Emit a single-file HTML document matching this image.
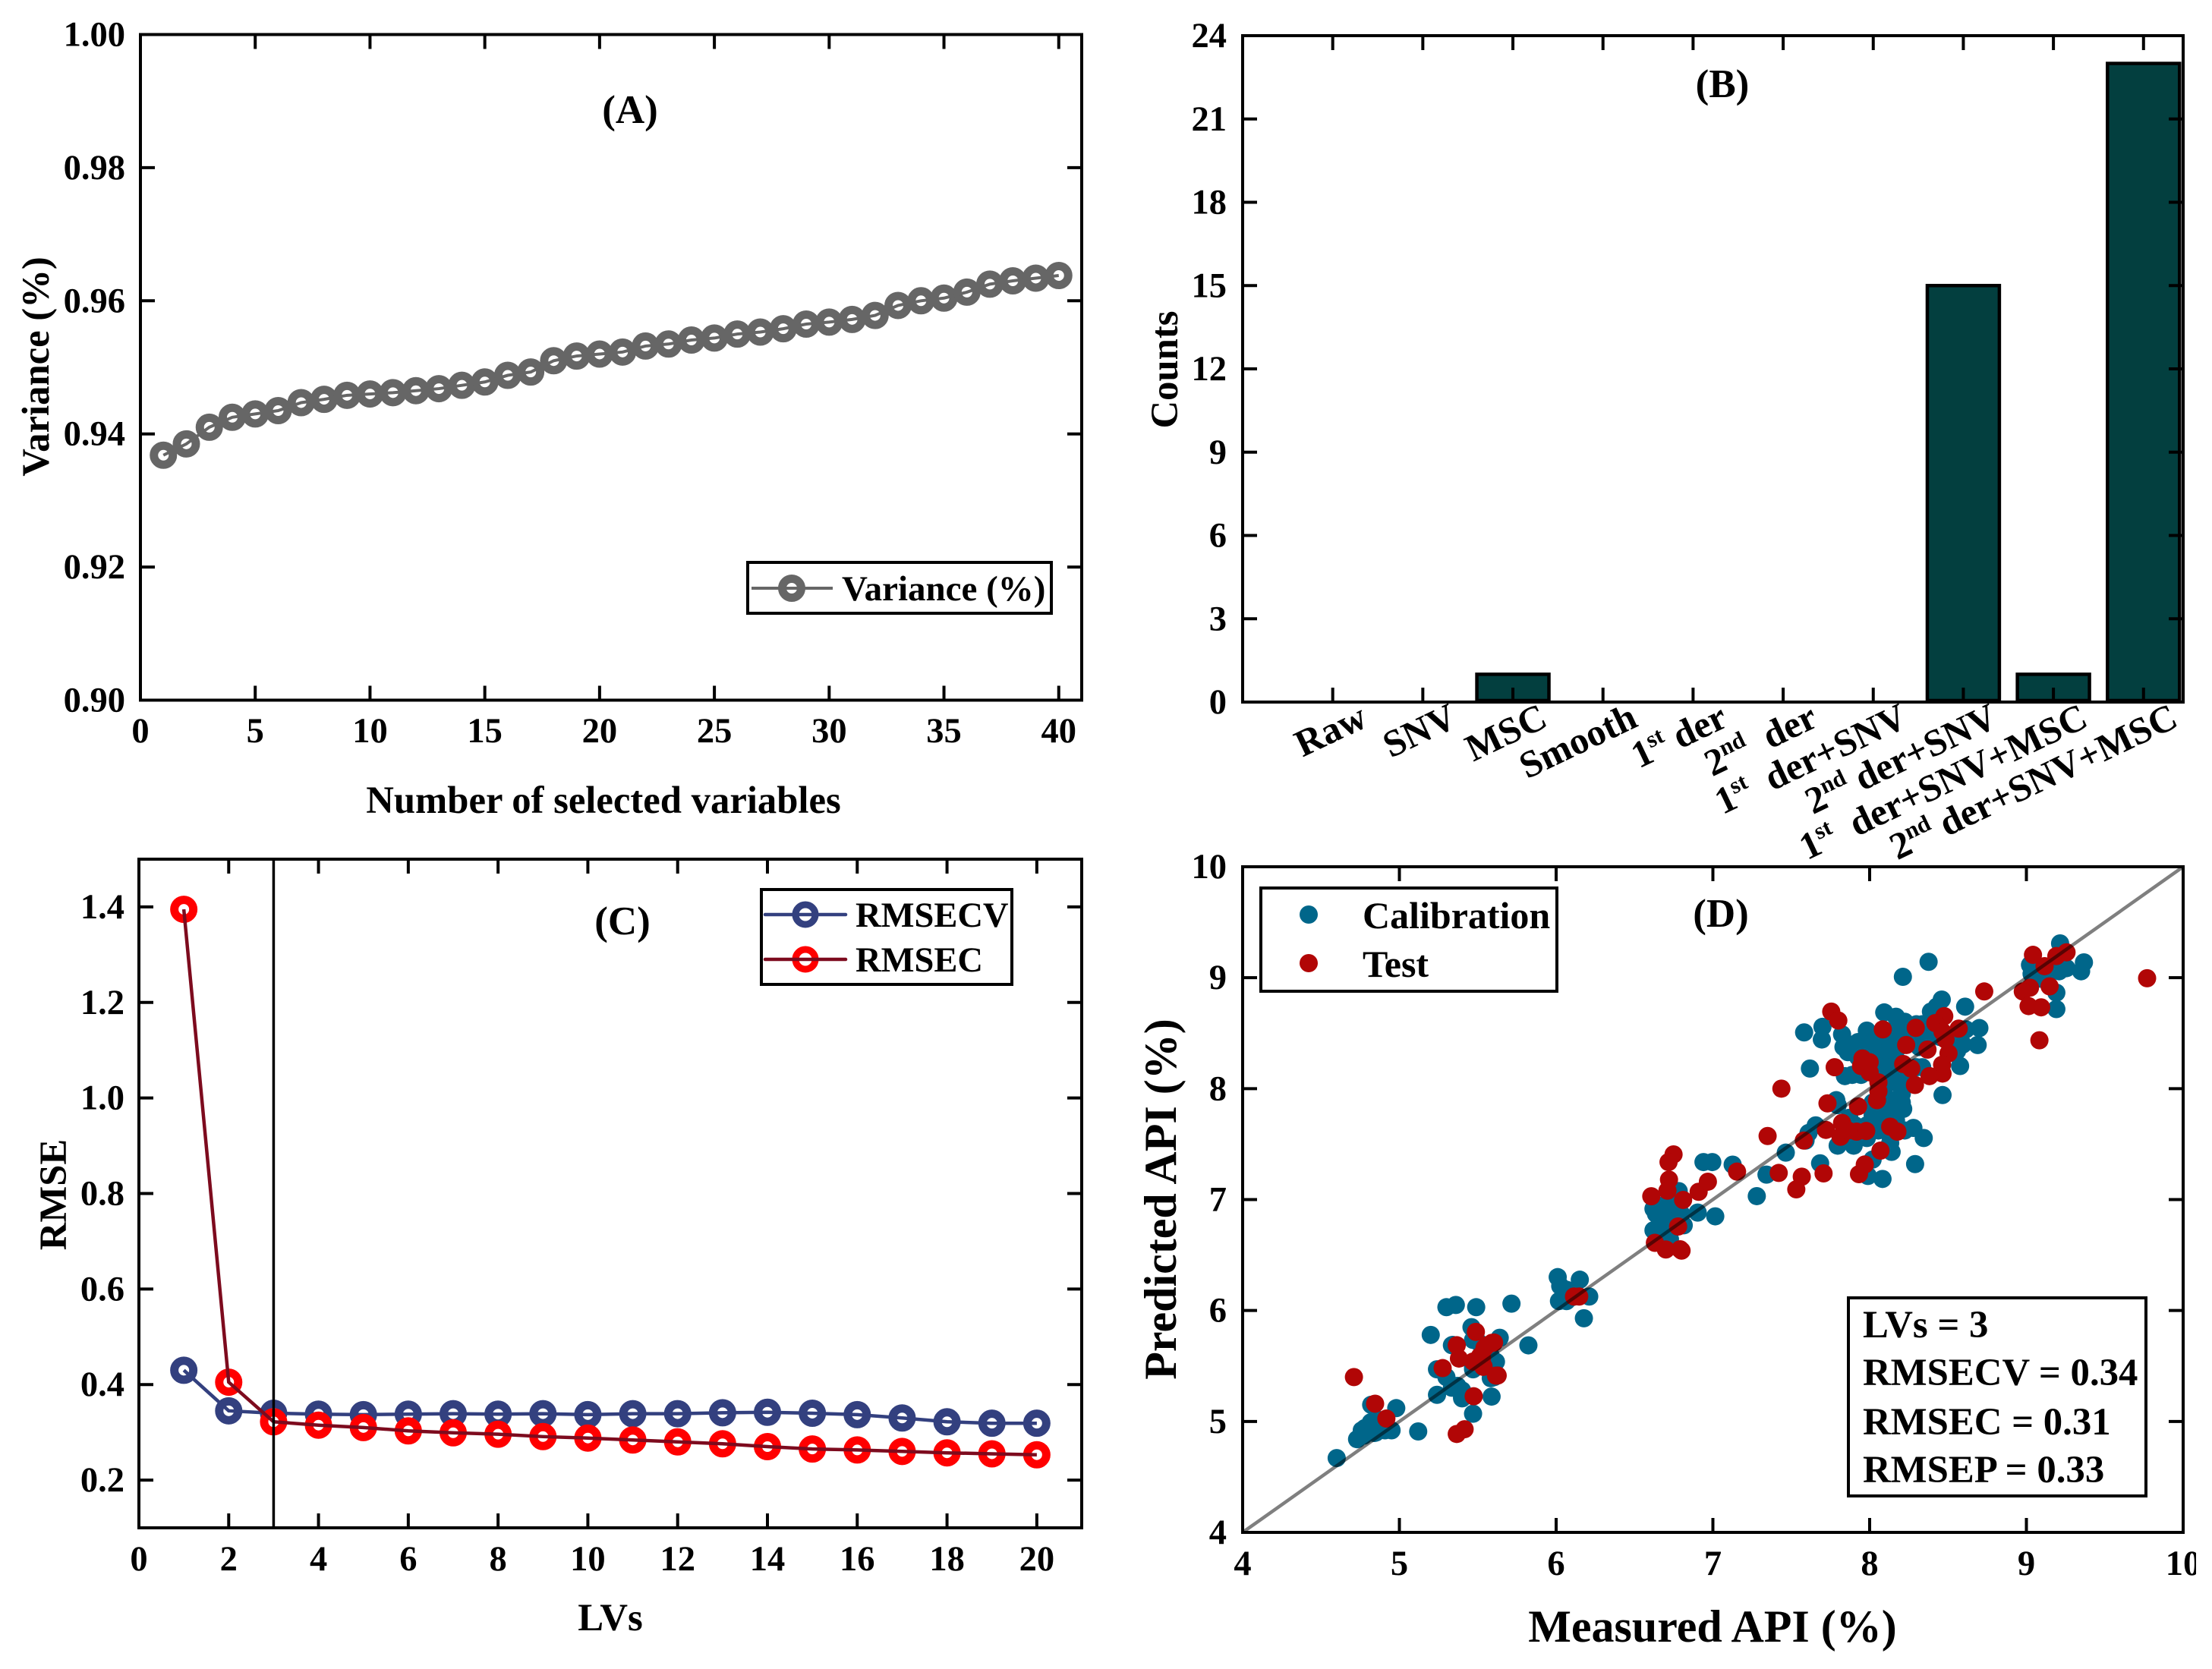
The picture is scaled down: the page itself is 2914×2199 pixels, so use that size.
<!DOCTYPE html>
<html>
<head>
<meta charset="utf-8">
<title>Variable selection and PLS model results</title>
<style>
html,body{margin:0;padding:0;background:#fff;}
svg{display:block;}
text{font-family:"Liberation Serif","Times New Roman",serif;font-weight:bold;fill:#000;white-space:pre;}
.tick{font-size:46.5px;}
.title{font-size:50.7px;}
.panel{font-size:53px;}
.leg{font-size:46.5px;}
.big{font-size:50px;}
.metric{font-size:50.8px;}
</style>
</head>
<body>
<svg id="chart" xmlns="http://www.w3.org/2000/svg" width="2914" height="2199" viewBox="0 0 2914 2199">
  <rect x="0" y="0" width="2914" height="2199" fill="#fff"/>
  <g id="panelA"></g>
  <g id="panelB"></g>
  <g id="panelC"></g>
  <g id="panelD"></g>

  <g>
    <text class="panel" x="830" y="162" text-anchor="middle">(A)</text>
    <text class="title" x="795" y="1071" text-anchor="middle">Number of selected variables</text>
    <text class="title" transform="translate(64 483) rotate(-90)" text-anchor="middle">Variance (%)</text>
    <g>
      <rect x="985" y="741" width="400" height="67" fill="#fff" stroke="#000" stroke-width="4"/>
      <circle cx="1043" cy="775" r="12.5" fill="#fff" stroke="#666" stroke-width="11"/>
      <line x1="990" y1="775" x2="1097" y2="775" stroke="#666" stroke-width="4"/>
      <text class="leg" style="font-size:47px" x="1109" y="791">Variance (%)</text>
    </g>
  </g>

  <g>
    <text class="panel" x="2269" y="128" text-anchor="middle">(B)</text>
    <text class="title" transform="translate(1551 487) rotate(-90)" text-anchor="middle">Counts</text>
  </g>

  <g>
    <text class="panel" x="820" y="1231" text-anchor="middle">(C)</text>
    <text class="title" x="804" y="2148" text-anchor="middle">LVs</text>
    <text class="title" transform="translate(87 1574) rotate(-90)" text-anchor="middle">RMSE</text>
    <g>
      <rect x="1003" y="1172" width="330" height="125" fill="#fff" stroke="#000" stroke-width="4"/>
      <circle cx="1061" cy="1205" r="13" fill="#fff" stroke="#33407f" stroke-width="9"/>
      <line x1="1008" y1="1205" x2="1114" y2="1205" stroke="#33407f" stroke-width="4.5" stroke-linecap="round"/>
      <text class="leg" x="1127" y="1221">RMSECV</text>
      <circle cx="1061" cy="1264" r="13" fill="#fff" stroke="#ff0000" stroke-width="9"/>
      <line x1="1008" y1="1264" x2="1114" y2="1264" stroke="#7d0b1e" stroke-width="4.5" stroke-linecap="round"/>
      <text class="leg" x="1127" y="1280">RMSEC</text>
    </g>
  </g>

  <g>
    <text class="panel" x="2267" y="1221" text-anchor="middle">(D)</text>
    <text class="title" style="font-size:60px" x="2256" y="2163" text-anchor="middle">Measured API (%)</text>
    <text class="title" style="font-size:60px" transform="translate(1549 1580) rotate(-90)" text-anchor="middle">Predicted API (%)</text>
    <g>
      <rect x="1661" y="1170" width="390" height="136" fill="#fff" stroke="#000" stroke-width="4"/>
      <circle cx="1724" cy="1205" r="12" fill="#00668a"/>
      <text class="big" x="1795" y="1223">Calibration</text>
      <circle cx="1724" cy="1269" r="12" fill="#b10606"/>
      <text class="big" x="1795" y="1287">Test</text>
    </g>
    <g>
      <rect x="2435" y="1710" width="392" height="261" fill="#fff" stroke="#000" stroke-width="4"/>
      <text class="metric" x="2454" y="1762">LVs = 3</text>
      <text class="metric" x="2454" y="1825">RMSECV = 0.34</text>
      <text class="metric" x="2454" y="1890">RMSEC = 0.31</text>
      <text class="metric" x="2454" y="1953">RMSEP = 0.33</text>
    </g>
  </g>
</svg>

<script>
// ---- Panel A data ----
const varianceCounts = [1,2,3,4,5,6,7,8,9,10,11,12,13,14,15,16,17,18,19,20,21,22,23,24,25,26,27,28,29,30,31,32,33,34,35,36,37,38,39,40];
const varianceValues = [0.9368,0.9385,0.941,0.9425,0.943,0.9435,0.9447,0.9452,0.9458,0.946,0.9462,0.9465,0.9468,0.9473,0.9478,0.9488,0.9493,0.951,0.9517,0.952,0.9523,0.9532,0.9535,0.9541,0.9544,0.955,0.9553,0.9558,0.9565,0.9568,0.9572,0.9578,0.9593,0.96,0.9604,0.9613,0.9625,0.963,0.9634,0.9638];
const panelAXTicks = [0,5,10,15,20,25,30,35,40];
const panelAYTicks = [0.90,0.92,0.94,0.96,0.98,1.00];
const panelAYLabels = ['0.90','0.92','0.94','0.96','0.98','1.00'];

// ---- Panel B data ----
const pretreatments = ['Raw','SNV','MSC','Smooth','1^st^ der','2^nd^  der','1^st^  der+SNV','2^nd^ der+SNV','1^st^  der+SNV+MSC','2^nd^ der+SNV+MSC'];
const pretreatmentCounts = [0,0,1,0,0,0,0,15,1,23];
const panelBYTicks = [0,3,6,9,12,15,18,21,24];

// ---- Panel C data ----
const latentVariables = [1,2,3,4,5,6,7,8,9,10,11,12,13,14,15,16,17,18,19,20];
const rmsecvValues = [0.43,0.345,0.34,0.338,0.337,0.338,0.339,0.338,0.339,0.337,0.339,0.339,0.341,0.342,0.34,0.337,0.33,0.322,0.319,0.319];
const rmsecValues = [1.395,0.405,0.322,0.315,0.31,0.303,0.299,0.296,0.291,0.288,0.284,0.28,0.276,0.27,0.265,0.263,0.26,0.257,0.255,0.253];
const selectedLVs = [3];
const panelCXTicks = [0,2,4,6,8,10,12,14,16,18,20];
const panelCYTicks = [0.2,0.4,0.6,0.8,1.0,1.2,1.4];
const panelCYLabels = ['0.2','0.4','0.6','0.8','1.0','1.2','1.4'];

// ---- Panel D data ----
const calibrationMeasured = [
4.6,4.73,4.76,4.78,4.85,4.82,4.88,4.95,4.98,5.12,4.9,4.83,
4.773,4.84,4.863,4.818,4.908,
5.2,5.24,5.24,5.3,5.3,5.36,5.34,5.37,5.4,5.4,5.47,5.46,5.49,5.715,5.823,5.64,5.588,5.583,5.616,5.47,5.5,5.58,5.52,
5.335,5.40,5.47,5.58,5.47,5.335,5.604,
6.01,6.026,6.151,6.066,6.018,6.066,6.211,6.177,6.1,
6.782,6.653,6.702,6.734,6.678,6.814,6.621,6.718,6.726,6.686,6.766,
6.686,6.702,6.637,6.766,6.734,6.669,6.798,6.621,
9.215,9.367,9.349,9.256,9.209,9.023,9.033,9.135,9.191,9.191,9.098,
8.376,8.212,8.46,8.609,8.438,8.7,8.689,8.577,8.558,8.549,8.614,
8.093,8.224,8.298,8.168,7.982,7.699,7.695,7.582,7.824,7.87,7.861,7.926,8.093,8.093,8.056,8.131,8.205,8.317,8.298,8.354,8.447,
7.619,7.842,7.889,8.093,8.093,7.982,8.186,8.298,8.335,8.186,8.205,8.465,
7.787,7.796,8.065,8.019,8.186,8.214,8.019,7.907,7.656,7.61,7.591,7.796,7.898,7.982,8.131,8.14,8.279,8.345,8.224,8.019,
7.684,8.29,7.989,8.082,7.342,7.28,7.465,7.126,6.94,6.996,7.015,6.903,
7.926,7.982,8.019,7.907,7.833,8.131,8.186,8.261,8.019,8.131,8.224,8.335,8.168,
8.056,7.945,8.131,8.168,8.131,8.205,8.093,8.205,8.131,8.205,8.149,8.075,
8.019,7.982,8.131,8.168,8.056,7.87,7.833,7.907,8.131,8.595,8.391,8.428,8.354
];
const calibrationPredicted = [
4.67,4.84,4.92,4.94,4.9,5.15,5.0,4.92,5.12,4.91,4.98,5.0,
4.872,4.896,5.016,4.992,4.92,
5.78,5.24,5.47,5.4,6.03,6.05,5.69,5.32,5.28,5.22,5.07,5.85,6.03,6.062,5.686,5.754,5.224,5.39,5.538,5.47,5.72,5.6,5.5,
5.304,5.208,5.496,5.59,5.735,5.687,5.4,
6.301,6.221,6.278,6.187,6.085,6.085,6.126,5.93,6.12,
7.076,6.939,6.962,6.893,6.825,6.768,6.723,6.757,6.643,6.688,6.939,
6.939,6.871,6.871,6.848,6.802,6.757,6.871,6.916,
9.309,9.138,9.058,9.086,9.058,9.115,9.035,9.035,8.865,8.717,8.99,
9.143,9.008,8.803,8.739,8.694,8.546,8.393,8.204,8.341,8.443,8.534,
8.687,8.603,8.58,8.534,8.523,8.557,8.443,8.507,8.489,8.398,8.329,8.284,8.375,8.284,8.443,8.42,8.42,8.375,8.466,8.42,8.466,
8.181,8.113,8.124,8.193,8.102,8.193,8.238,8.193,8.193,8.056,7.953,7.942,
7.896,7.851,7.953,7.874,7.828,7.817,7.76,7.669,7.669,7.6,7.532,7.486,7.486,7.555,7.509,7.43,7.646,7.555,7.623,7.361,
7.327,7.32,7.213,7.186,7.225,7.031,7.423,7.315,7.338,7.338,6.849,6.883,
8.42,8.375,8.329,8.329,8.375,8.329,8.375,8.466,8.42,8.512,8.512,8.58,8.648,
8.193,8.124,8.193,8.147,8.102,8.124,8.0,8.0,7.896,7.874,7.805,7.783,
7.691,7.669,7.691,7.714,7.623,7.737,7.6,7.555,7.578,8.398,8.694,8.739,8.512
];
const testMeasured = [
4.71,4.845,4.917,5.366,5.416,5.474,5.276,5.38,5.366,5.488,5.627,5.56,5.604,5.515,5.537,5.47,5.591,5.543,5.527,5.535,5.616,
6.114,6.147,
6.607,6.63,6.70,6.80,6.778,6.791,6.749,6.717,6.72,6.71,6.81,6.909,6.968,
7.154,7.42,7.567,7.532,7.706,7.969,7.932,7.349,7.58,7.437,
7.731,7.926,7.824,7.721,7.814,7.917,7.861,7.978,8.131,8.177,8.069,
7.755,7.80,8.084,8.294,8.476,8.419,8.568,8.465,8.484,8.233,8.369,8.503,7.954,8.0,7.945,7.777,8.462,8.214,8.265,8.465,8.382,8.289,8.056,8.047,8.056,8.0,
8.731,9.042,9.191,9.256,9.116,9.023,8.977,9.148,9.014,9.094,9.083,9.77
];
const testPredicted = [
5.40,5.16,5.026,4.887,4.93,5.227,5.481,5.567,5.687,5.807,5.414,5.687,5.711,5.59,5.496,5.54,5.709,5.663,5.572,5.492,5.413,
6.126,6.126,
7.03,6.61,6.55,6.54,6.757,6.552,7.407,7.338,7.18,7.08,6.997,7.07,7.161,
7.252,7.24,7.206,7.092,7.236,7.316,7.229,7.573,7.532,8.0,
7.867,7.84,7.691,7.628,7.566,7.612,7.623,7.618,7.657,7.612,7.441,
8.694,8.614,8.534,8.548,8.653,8.591,8.541,8.512,8.443,8.393,8.352,8.318,8.272,8.238,8.204,8.193,8.215,8.222,8.181,8.136,8.113,8.033,8.056,7.896,7.976,8.147,
8.876,9.206,9.195,9.229,9.104,8.91,8.876,8.922,8.744,8.733,8.436,8.995
];
const panelDTicks = [4,5,6,7,8,9,10];
const identityLine = [4,10];

// ---- Helpers ----
const NS = 'http://www.w3.org/2000/svg';
function add(parent, tag, attrs) {
  const el = document.createElementNS(NS, tag);
  for (const k in attrs) el.setAttribute(k, attrs[k]);
  parent.appendChild(el);
  return el;
}
function scale(d0, d1, r0, r1) {
  return function (v) { return r0 + (v - d0) / (d1 - d0) * (r1 - r0); };
}
function pathFrom(xs, ys, sx, sy) {
  return xs.map(function (v, i) { return (i ? 'L' : 'M') + sx(v).toFixed(2) + ' ' + sy(ys[i]).toFixed(2); }).join(' ');
}
const TICK = 19;
function drawTicks(g, box, sx, sy, xTicks, yTicks) {
  xTicks.forEach(function (v) {
    const px = sx(v);
    const b = add(g, 'line', {x1: px, x2: px, y1: box.b, y2: box.b - TICK, stroke: '#000', 'stroke-width': 4});
    
    
    const t = add(g, 'line', {x1: px, x2: px, y1: box.t, y2: box.t + TICK, stroke: '#000', 'stroke-width': 4});
    
    
  });
  yTicks.forEach(function (v) {
    const py = sy(v);
    const l = add(g, 'line', {x1: box.l, x2: box.l + TICK, y1: py, y2: py, stroke: '#000', 'stroke-width': 4});
    
    
    const r = add(g, 'line', {x1: box.r, x2: box.r - TICK, y1: py, y2: py, stroke: '#000', 'stroke-width': 4});
    
    
  });
}
function drawFrame(g, box) {
  const f = add(g, 'rect', {x: box.l, y: box.t, width: box.r - box.l, height: box.b - box.t, fill: 'none', stroke: '#000', 'stroke-width': 4});
  
  
}
function drawXLabels(g, sx, ticks, labels, baseline) {
  ticks.forEach(function (v, i) {
    const t = add(g, 'text', {x: sx(v), y: baseline, 'text-anchor': 'middle', class: 'tick'});
    t.textContent = labels[i];
    
    
  });
}
function drawYLabels(g, sy, ticks, labels, right) {
  ticks.forEach(function (v, i) {
    const t = add(g, 'text', {x: right, y: sy(v) + 15, 'text-anchor': 'end', class: 'tick'});
    t.textContent = labels[i];
    
    
  });
}

// ---- Panel A ----
(function () {
  const g = document.getElementById('panelA');
  const box = {l: 185, r: 1425, t: 45.5, b: 922.5};
  const sx = scale(0, 41, box.l, box.r);
  const sy = scale(0.90, 1.00, box.b, box.t);
  drawTicks(g, box, sx, sy, panelAXTicks, panelAYTicks);
  varianceCounts.forEach(function (v, i) {
    const c = add(g, 'circle', {cx: sx(v), cy: sy(varianceValues[i]), r: 12.5, fill: '#fff', stroke: '#666', 'stroke-width': 11});
    
    
  });
  const line = add(g, 'path', {d: pathFrom(varianceCounts, varianceValues, sx, sy), fill: 'none', stroke: '#666', 'stroke-width': 4});
  
  
  drawFrame(g, box);
  drawXLabels(g, sx, panelAXTicks, panelAXTicks.map(String), 978);
  drawYLabels(g, sy, panelAYTicks, panelAYLabels, 165);
})();

// ---- Panel B ----
(function () {
  const g = document.getElementById('panelB');
  const box = {l: 1637, r: 2876, t: 47, b: 925};
  const sx = scale(0, 10.44, box.l, box.r);
  const sy = scale(0, 24, box.b, box.t);
  const BAR = 0.8;
  pretreatmentCounts.forEach(function (v, i) {
    if (v <= 0) return;
    const x0 = sx(i + 1 - BAR / 2), x1 = sx(i + 1 + BAR / 2);
    const bar = add(g, 'rect', {x: x0, y: sy(v), width: x1 - x0, height: sy(0) - sy(v) - 2, fill: '#033f3f', stroke: '#000', 'stroke-width': 4.5});
    
    
  });
  drawTicks(g, box, sx, sy, pretreatments.map(function (_, i) { return i + 1; }), panelBYTicks);
  drawFrame(g, box);
  drawYLabels(g, sy, panelBYTicks, panelBYTicks.map(String), 1616);
  pretreatments.forEach(function (label, i) {
    const t = add(g, 'text', {transform: 'translate(' + (sx(i + 1) + 48) + ' 956) rotate(-25.5)', 'text-anchor': 'end', class: 'big'});
    
    
    const parts = label.split('^');
    let shift = 0;
    parts.forEach(function (part, j) {
      const sup = j % 2 === 1;
      const target = sup ? -18 : 0;
      const s = add(t, 'tspan', {dy: target - shift, 'font-size': sup ? 31 : 50});
      s.textContent = part;
      shift = target;
    });
  });
})();

// ---- Panel C ----
(function () {
  const g = document.getElementById('panelC');
  const box = {l: 183, r: 1425, t: 1132, b: 2013};
  const sx = scale(0, 21, box.l, box.r);
  const sy = scale(0.1, 1.5, box.b, box.t);
  drawTicks(g, box, sx, sy, panelCXTicks, panelCYTicks);
  latentVariables.forEach(function (v, i) {
    const c = add(g, 'circle', {cx: sx(v), cy: sy(rmsecvValues[i]), r: 12.5, fill: '#fff', stroke: '#33407f', 'stroke-width': 11});
    
    
  });
  const l1 = add(g, 'path', {d: pathFrom(latentVariables, rmsecvValues, sx, sy), fill: 'none', stroke: '#33407f', 'stroke-width': 4.5});
  
  
  latentVariables.forEach(function (v, i) {
    const c = add(g, 'circle', {cx: sx(v), cy: sy(rmsecValues[i]), r: 12.5, fill: '#fff', stroke: '#ff0000', 'stroke-width': 11});
    
    
  });
  const l2 = add(g, 'path', {d: pathFrom(latentVariables, rmsecValues, sx, sy), fill: 'none', stroke: '#7d0b1e', 'stroke-width': 4.5});
  
  
  selectedLVs.forEach(function (v) {
    const s = add(g, 'line', {x1: sx(v), x2: sx(v), y1: box.t, y2: box.b, stroke: '#000', 'stroke-width': 3.5});
    
    
  });
  drawFrame(g, box);
  drawXLabels(g, sx, panelCXTicks, panelCXTicks.map(String), 2069);
  drawYLabels(g, sy, panelCYTicks, panelCYLabels, 164);
})();

// ---- Panel D ----
(function () {
  const g = document.getElementById('panelD');
  const box = {l: 1637, r: 2876, t: 1142, b: 2019};
  const sx = scale(4, 10, box.l, box.r);
  const sy = scale(4, 10, box.b, box.t);
  drawTicks(g, box, sx, sy, panelDTicks, panelDTicks);
  calibrationMeasured.forEach(function (v, i) {
    const c = add(g, 'circle', {cx: sx(v), cy: sy(calibrationPredicted[i]), r: 12, fill: '#00668a'});
    
    
  });
  testMeasured.forEach(function (v, i) {
    const c = add(g, 'circle', {cx: sx(v), cy: sy(testPredicted[i]), r: 12, fill: '#b10606'});
    
    
  });
  const id = add(g, 'line', {x1: sx(identityLine[0]), y1: sy(identityLine[0]), x2: sx(identityLine[1]), y2: sy(identityLine[1]), stroke: 'rgba(0,0,0,0.5)', 'stroke-width': 4.5});
  
  
  drawFrame(g, box);
  drawXLabels(g, sx, panelDTicks, panelDTicks.map(String), 2075);
  drawYLabels(g, sy, panelDTicks, panelDTicks.map(String), 1616);
  const mask = add(g, 'rect', {x: 2893, y: 2035, width: 21, height: 50, fill: '#fff'});
  
  
})();
</script>
</body>
</html>
